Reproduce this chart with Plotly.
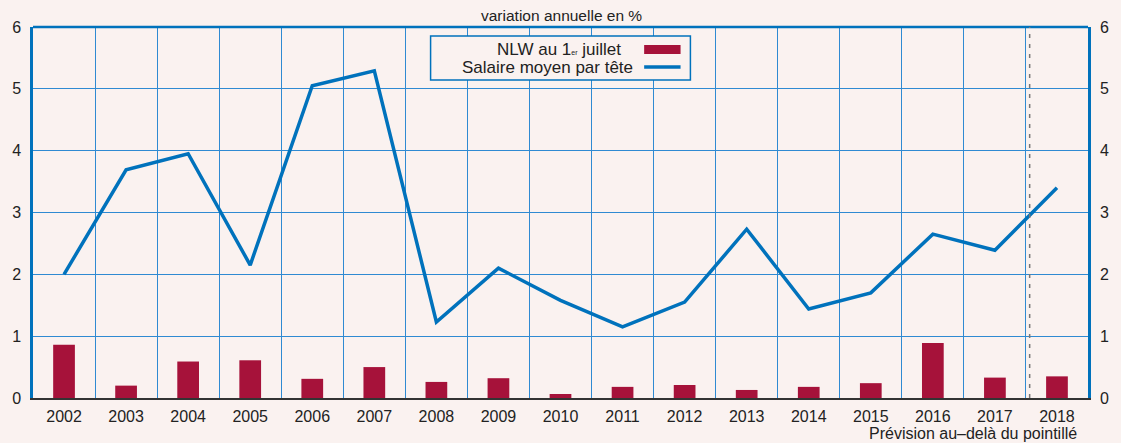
import plotly.graph_objects as go

years = list(range(2002, 2019))
year_labels = [str(y) for y in years]
nlw = [0.86, 0.20, 0.59, 0.61, 0.31, 0.50, 0.26, 0.32, 0.065, 0.18, 0.21, 0.13, 0.18, 0.24, 0.89, 0.33, 0.35]
salaire = [2.00, 3.69, 3.95, 2.15, 5.05, 5.29, 1.23, 2.10, 1.58, 1.15, 1.55, 2.73, 1.44, 1.70, 2.65, 2.39, 3.40]
y_ticks = [0, 1, 2, 3, 4, 5, 6]
forecast_from = 2017.56

BG = "#faf2f0"
BAR = "#a6123a"
BLUE = "#0072bc"
GRID = "#2f8ad2"
FONT = "Liberation Sans, Arial, sans-serif"

boundaries = [y + 0.5 for y in years[:-1]]

fig = go.Figure()
fig.add_trace(go.Bar(x=years, y=nlw, marker=dict(color=BAR, line=dict(width=0)),
                     name="NLW au 1er juillet", showlegend=False, yaxis="y"))
fig.add_trace(go.Scatter(x=years, y=salaire, mode="lines", line=dict(color=BLUE, width=3.5),
                         name="Salaire moyen par tête", showlegend=False, yaxis="y2"))

fig.update_layout(
    width=1121, height=443,
    margin=dict(l=30, r=19, t=27, b=45),
    paper_bgcolor=BG, plot_bgcolor=BG,
    font=dict(family=FONT, size=16, color="#222"),
    bargap=0.65,
    showlegend=False,
    xaxis=dict(range=[years[0] - 0.5, years[-1] + 0.5], tickvals=years, ticktext=year_labels,
               showgrid=False, zeroline=False,
               minor=dict(tickvals=boundaries, showgrid=True, gridcolor=GRID, gridwidth=1, ticks=""),
               ticks="", showline=True, linecolor="#333", linewidth=2,
               tickfont=dict(size=16), ticklabelstandoff=3),
    yaxis=dict(range=[0, 6], tickvals=y_ticks, showgrid=True, gridcolor=GRID, gridwidth=1,
               zeroline=False, showline=True, linecolor=BLUE, linewidth=2.5, ticks="",
               tickfont=dict(size=16), ticklabelstandoff=6),
    yaxis2=dict(range=[0, 6], tickvals=y_ticks, overlaying="y", side="right", showgrid=False,
                zeroline=False, showline=True, linecolor=BLUE, linewidth=2.5, ticks="",
                tickfont=dict(size=16), ticklabelstandoff=6),
)

shapes = [
    dict(type="line", xref="paper", yref="paper", x0=0, x1=1, y0=1, y1=1,
         line=dict(color=BLUE, width=2.5)),
    dict(type="line", xref="x", yref="paper", x0=forecast_from, x1=forecast_from, y0=0, y1=1,
         line=dict(color="#777", width=1.5, dash="4px,6px")),
    dict(type="rect", xref="paper", yref="paper",
         x0=(434 - 30) / 1072, x1=(698 - 30) / 1072, y0=(398 - 80) / 371, y1=(398 - 36) / 371,
         line=dict(color=BLUE, width=1.5), fillcolor=BG),
    dict(type="rect", xref="paper", yref="paper",
         x0=(651 - 30) / 1072, x1=(688 - 30) / 1072, y0=(398 - 54) / 371, y1=(398 - 45) / 371,
         line=dict(width=0), fillcolor=BAR),
    dict(type="line", xref="paper", yref="paper",
         x0=(651 - 30) / 1072, x1=(688 - 30) / 1072, y0=(398 - 67) / 371, y1=(398 - 67) / 371,
         line=dict(color=BLUE, width=3.5)),
]

annotations = [
    dict(text="variation annuelle en %", xref="paper", yref="paper",
         x=(567 - 30) / 1072, y=(398 - 15) / 371, showarrow=False, xanchor="center", yanchor="middle",
         font=dict(size=15.5, color="#222")),
    dict(text="NLW au 1<span style='font-size:7px'>er</span> juillet", xref="paper", yref="paper",
         x=(630 - 30) / 1072, y=(398 - 50) / 371, showarrow=False, xanchor="right", yanchor="middle",
         font=dict(size=17, color="#222")),
    dict(text="Salaire moyen par tête", xref="paper", yref="paper",
         x=(642 - 30) / 1072, y=(398 - 67) / 371, showarrow=False, xanchor="right", yanchor="middle",
         font=dict(size=17, color="#222")),
    dict(text="Prévision au–delà du pointillé", xref="paper", yref="paper",
         x=(1093 - 30) / 1072, y=(398 - 433) / 371, showarrow=False, xanchor="right", yanchor="middle",
         font=dict(size=16, color="#222")),
]

fig.update_layout(shapes=shapes, annotations=annotations)
fig.write_html("out.html", config={"displayModeBar": False},
               post_script="document.body.style.margin='0';document.body.style.background='#faf2f0';")
